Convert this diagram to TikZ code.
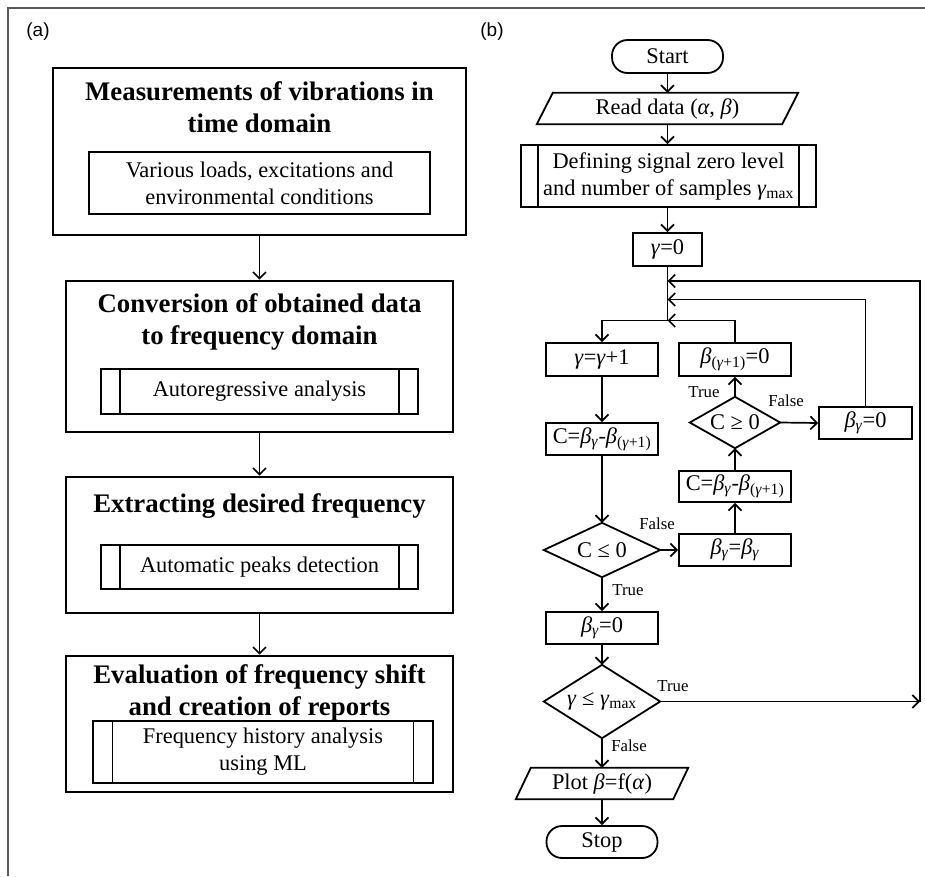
\documentclass[tikz,border=0pt]{standalone}
\usepackage{fontspec}
\setmainfont{Liberation Serif}
\newfontfamily\labfont{Liberation Sans}
\usetikzlibrary{arrows.meta,calc}
\newcommand{\gm}{\textit{γ}}
\newcommand{\bt}{\textit{β}}
\newcommand{\al}{\textit{α}}
\newcommand{\sbs}[1]{\textsubscript{#1}}
\begin{document}
\begin{tikzpicture}[x=1pt,y=-1pt,
 bigbox/.style={draw, line width=2.6pt, inner sep=0pt},
 inbox/.style={draw, line width=1.8pt, inner sep=0pt, align=center, font=\fontsize{22.4}{27}\selectfont},
 ttl/.style={align=center, font=\fontsize{26.8}{32}\selectfont\bfseries, inner sep=0pt},
 fbox/.style={draw, line width=1.8pt, inner sep=0pt, align=center, font=\fontsize{22.4}{27}\selectfont},
 term/.style={fbox, rounded corners=15.5pt},
 ghost/.style={inner sep=0pt, align=center, font=\fontsize{22.4}{27}\selectfont},
 lbl/.style={inner sep=0pt, font=\fontsize{16.8}{20}\selectfont},
 panel/.style={inner sep=0pt, font=\labfont\fontsize{19}{22}\selectfont},
 arr/.style={line width=1.7pt, -{Straight Barb[length=6.5pt,width=13pt]}},
 edge/.style={line width=1.8pt},
 subr/.style={path picture={\draw[line width=1.8pt] ([xshift=#1]path picture bounding box.north west) -- ([xshift=#1]path picture bounding box.south west) ([xshift=-#1]path picture bounding box.north east) -- ([xshift=-#1]path picture bounding box.south east);}}
]
\useasboundingbox (0,0) rectangle (925,876);
\fill[white] (0,0) rectangle (925,876);
\draw[line width=1.4pt, black!65] (8,876) -- (8,8) -- (925,8);

\node[panel] (pa) at (38,32) {(a)};
\node[panel] (pb) at (492,32) {(b)};

% ---------- panel (a)
\node[bigbox, minimum width=413pt, minimum height=167pt] (a1) at (259.5,151.5) {};
\node[ttl] (a1t) at (259.5,107) {Measurements of vibrations in\\time domain};
\node[inbox, minimum width=341pt, minimum height=62pt] (a1s) at (259.5,183) {Various loads, excitations and\\environmental conditions};

\node[bigbox, minimum width=387pt, minimum height=151pt] (a2) at (259.5,356.5) {};
\node[ttl] (a2t) at (259.5,321.5) {Conversion of obtained data\\to frequency domain};
\node[inbox, subr=19pt, minimum width=317pt, minimum height=45pt] (a2s) at (259.5,391.5) {Autoregressive analysis};

\node[bigbox, minimum width=387pt, minimum height=136pt] (a3) at (259.5,545) {};
\node[ttl] (a3t) at (259.5,506) {Extracting desired frequency};
\node[inbox, subr=19pt, minimum width=317pt, minimum height=44pt] (a3s) at (259.5,567) {Automatic peaks detection};

\node[bigbox, minimum width=387pt, minimum height=136pt] (a4) at (259.5,724) {};
\node[ttl] (a4t) at (259.5,693) {Evaluation of frequency shift\\and creation of reports};
\node[inbox, subr=19.5pt, minimum width=340pt, minimum height=62pt] (a4s) at (263,752) {Frequency history analysis\\using ML};

\draw[arr] (a1.south) -- (a2.north);
\draw[arr] (a2.south) -- (a3.north);
\draw[arr] (a3.south) -- (a4.north);

% ---------- panel (b)
\node[term, minimum width=111pt, minimum height=33pt] (start) at (667.5,56.5) {Start};
\node[ghost, minimum width=245pt, minimum height=31pt] (read) at (667.5,108.5) {Read data (\al, \bt)};
\draw[edge] ([xshift=-8pt]read.south west) -- ([xshift=8pt]read.north west) -- ([xshift=8pt]read.north east) -- ([xshift=-8pt]read.south east) -- cycle;
\node[fbox, subr=17pt, minimum width=295pt, minimum height=62pt] (def) at (668.5,176) {Defining signal zero level\\and number of samples \gm\sbs{max}};
\node[fbox, minimum width=69pt, minimum height=33pt] (g0) at (667.5,249.5) {\gm=0};
\coordinate (J1) at (667.5,281);
\coordinate (J2) at (667.5,299.5);
\coordinate (J3) at (667.5,320.5);

\node[fbox, minimum width=112pt, minimum height=33pt] (inc) at (602,359.5) {\gm=\gm+1};
\node[fbox, minimum width=112pt, minimum height=33pt] (b1) at (735,359.5) {\bt\sbs{(\gm+1)}=0};
\node[ghost, minimum width=90pt, minimum height=51pt] (cge) at (735,422.5) {C ≥ 0};
\draw[edge] (cge.north) -- (cge.east) -- (cge.south) -- (cge.west) -- cycle;
\node[fbox, minimum width=93pt, minimum height=32pt] (bzr) at (865.5,423) {\bt\sbs{\gm}=0};
\node[fbox, minimum width=112pt, minimum height=32pt] (c1) at (602,439) {C=\bt\sbs{\gm}-\bt\sbs{(\gm+1)}};
\node[fbox, minimum width=112pt, minimum height=31pt] (c2) at (735,486.5) {C=\bt\sbs{\gm}-\bt\sbs{(\gm+1)}};
\node[ghost, minimum width=116pt, minimum height=54pt] (cle) at (602,550) {C ≤ 0};
\draw[edge] (cle.north) -- (cle.east) -- (cle.south) -- (cle.west) -- cycle;
\node[fbox, minimum width=112pt, minimum height=32pt] (bb) at (735,550) {\bt\sbs{\gm}=\bt\sbs{\gm}};
\node[fbox, minimum width=112pt, minimum height=32pt] (bz2) at (602,628) {\bt\sbs{\gm}=0};
\node[ghost, minimum width=116pt, minimum height=73pt] (cmax) at (602,701.5) {\gm\ ≤\ \gm\sbs{max}};
\draw[edge] (cmax.north) -- (cmax.east) -- (cmax.south) -- (cmax.west) -- cycle;
\coordinate (R) at (920,701.5);
\node[ghost, minimum width=157pt, minimum height=31pt] (plot) at (602,783.5) {Plot \bt=f(\al)};
\draw[edge] ([xshift=-7.5pt]plot.south west) -- ([xshift=7.5pt]plot.north west) -- ([xshift=7.5pt]plot.north east) -- ([xshift=-7.5pt]plot.south east) -- cycle;
\node[term, minimum width=111pt, minimum height=32pt] (stop) at (602,842) {Stop};

\draw[arr] (start.south) -- (read.north);
\draw[arr] (read.south) -- (def.north -| read.south);
\draw[arr] (def.south -| g0.north) -- (g0.north);
\draw[arr] (g0.south) -- (J3) -| (inc.north);
\draw[arr] (b1.north) |- (J3);
\draw[arr] (bzr.north) |- (J2);
\draw[arr] (R) |- (J1);
\draw[arr] (inc.south) -- (c1.north);
\draw[arr] (c1.south) -- (cle.north);
\draw[arr] (cle.east) -- (bb.west);
\draw[arr] (bb.north) -- (c2.south);
\draw[arr] (c2.north) -- (cge.south);
\draw[arr] (cge.north) -- (b1.south);
\draw[arr] (cge.east) -- (bzr.west);
\draw[arr] (cle.south) -- (bz2.north);
\draw[arr] (bz2.south) -- (cmax.north);
\draw[arr] (cmax.east) -- (R);
\draw[arr] (cmax.south) -- (plot.north);
\draw[arr] (plot.south) -- (stop.north);

\node[lbl] (l1) at (657,524) {False};
\node[lbl] (l2) at (628,590) {True};
\node[lbl] (l3) at (704,392) {True};
\node[lbl] (l4) at (786,401) {False};
\node[lbl] (l5) at (673,686) {True};
\node[lbl] (l6) at (629,746) {False};
\end{tikzpicture}
\end{document}
